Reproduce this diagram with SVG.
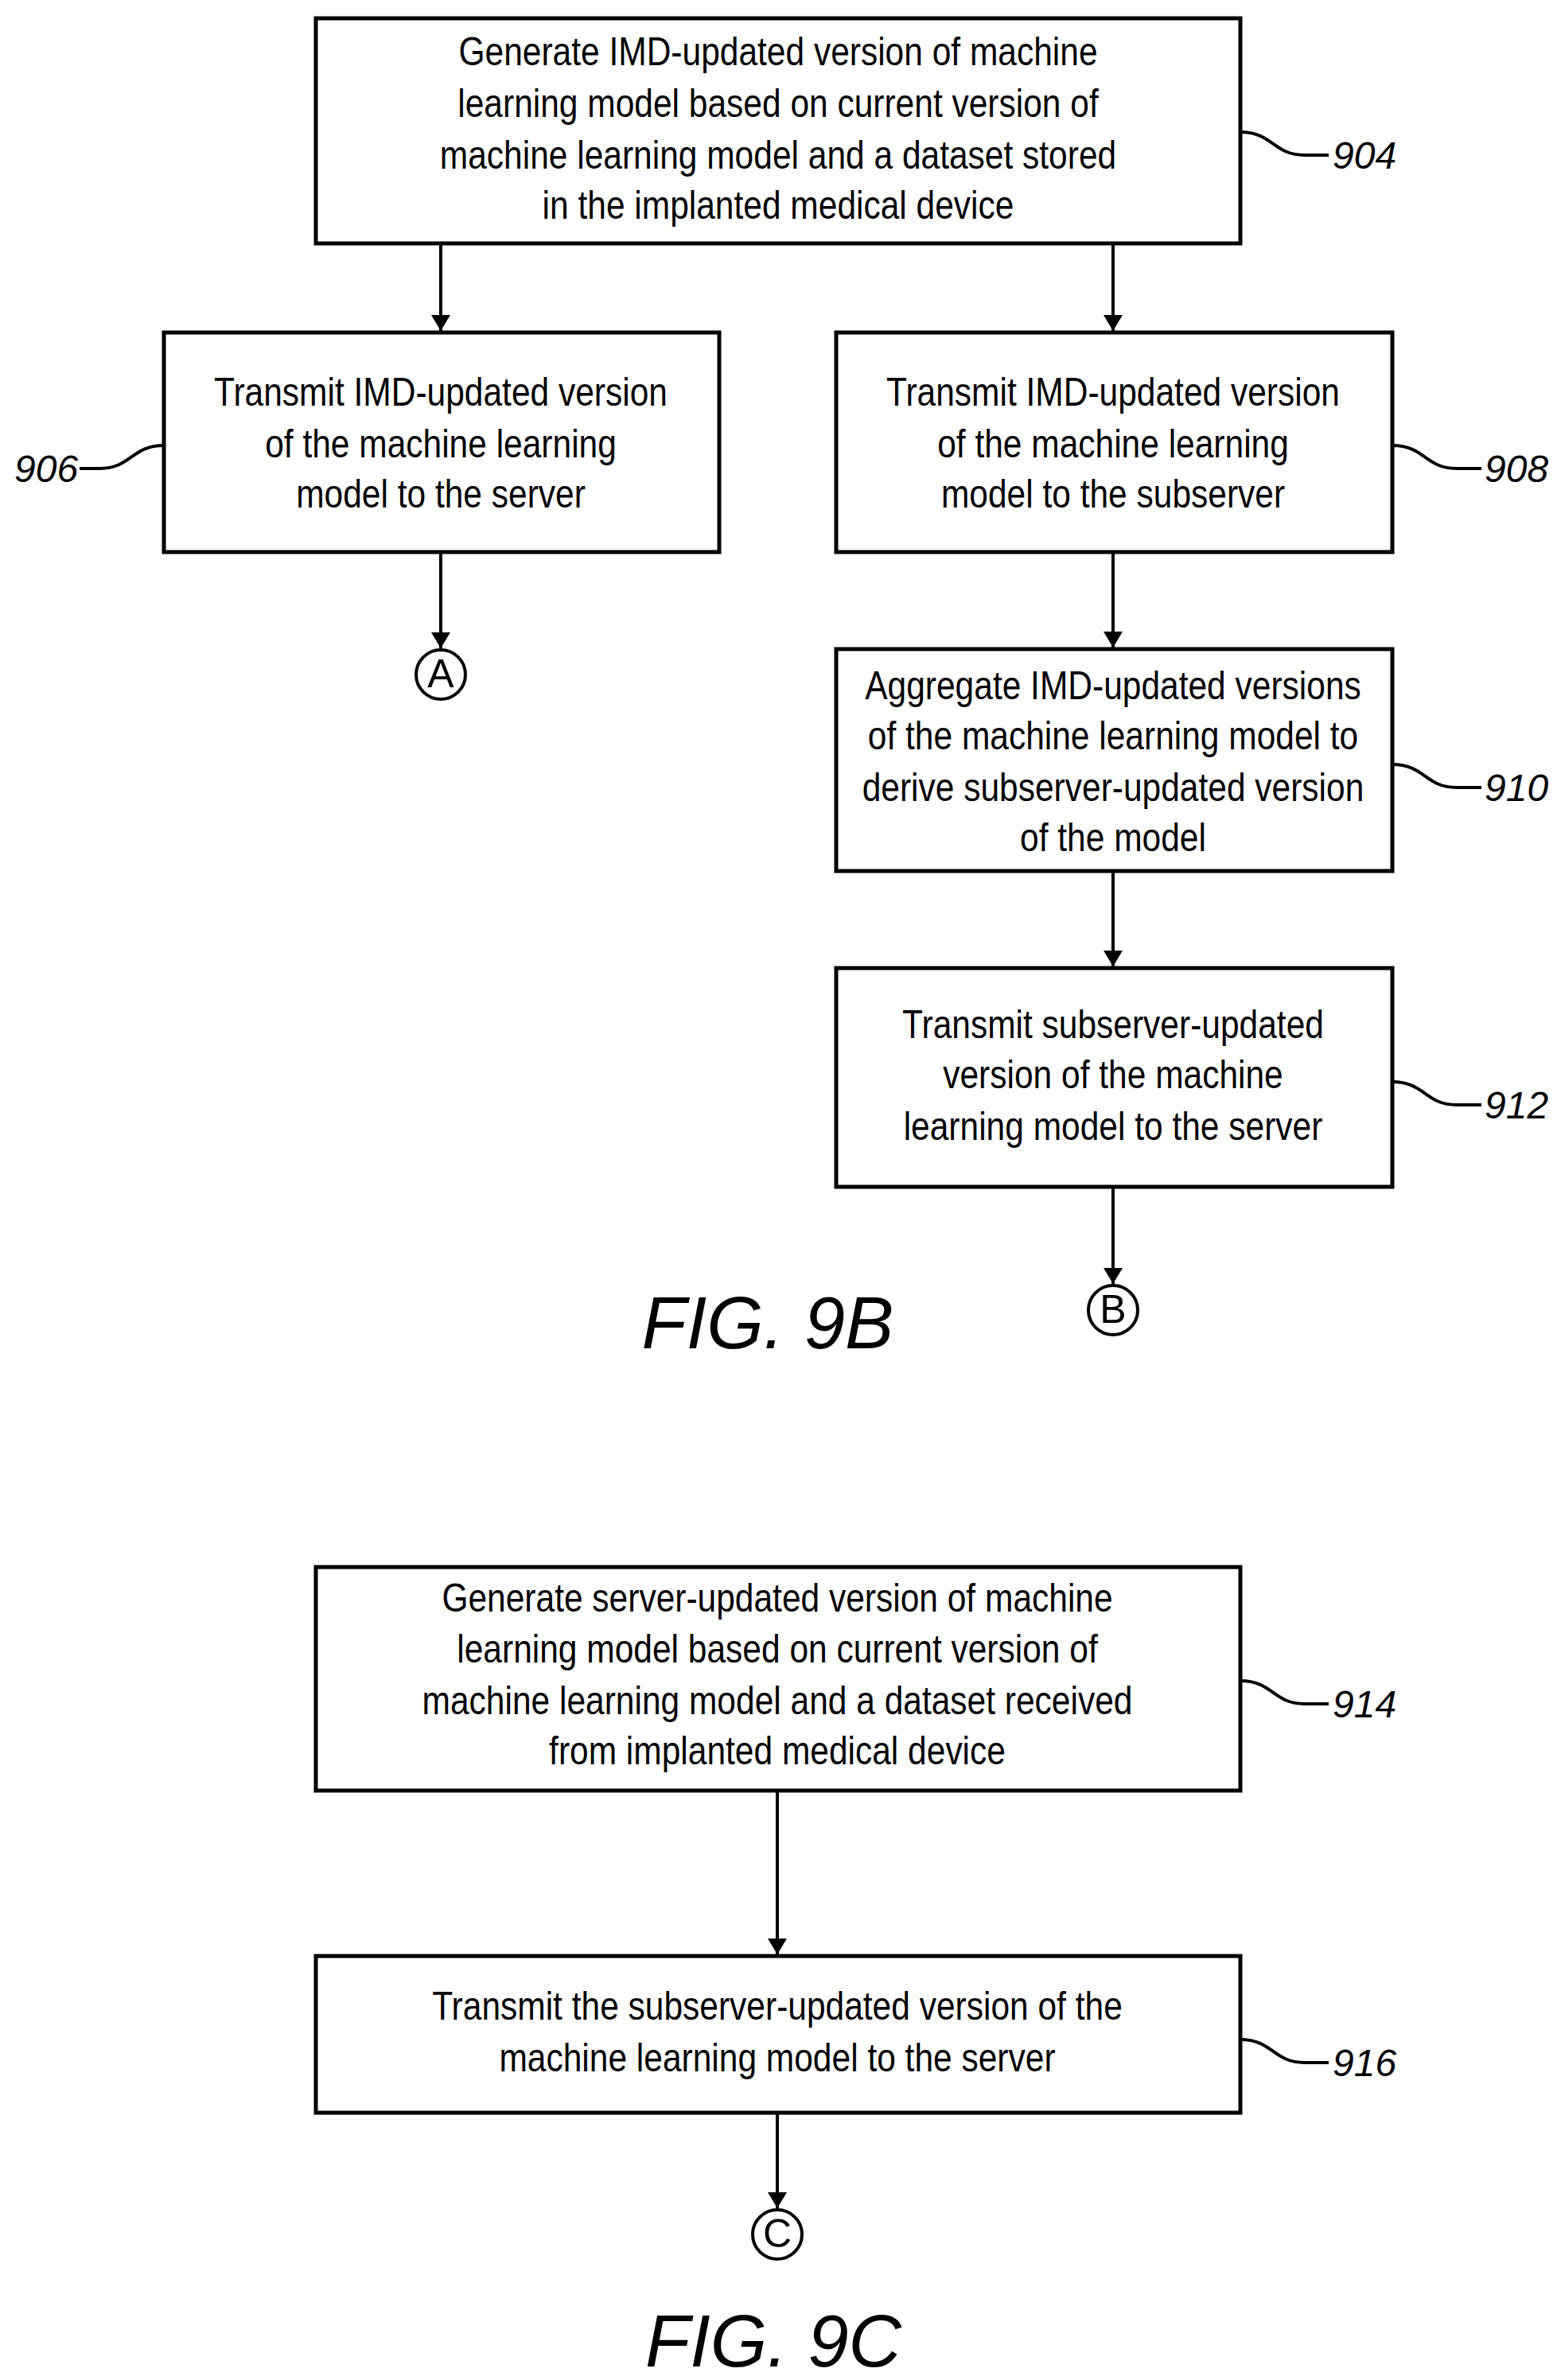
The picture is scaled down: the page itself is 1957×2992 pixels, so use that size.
<svg xmlns="http://www.w3.org/2000/svg" width="1957" height="2992" viewBox="0 0 1957 2992">
<style>
.b{fill:#fff;stroke:#000;stroke-width:5}
.c{fill:none;stroke:#000;stroke-width:4}
.t{font-family:"Liberation Sans",Arial,sans-serif;font-size:50px;text-anchor:middle;fill:#000}
.l{font-family:"Liberation Sans",Arial,sans-serif;font-size:48px;font-style:italic;fill:#000}
.f{font-family:"Liberation Sans",Arial,sans-serif;font-size:92px;font-style:italic;fill:#000;text-anchor:middle}
</style>
<defs><marker id="a" markerWidth="8" markerHeight="10" refX="8" refY="5" orient="auto" markerUnits="userSpaceOnUse" viewBox="0 0 8 10"><path d="M0,0 L8,5 L0,10 z" fill="#000"/></marker>
<marker id="ah" viewBox="0 0 20 24" refX="20" refY="12" markerWidth="20" markerHeight="24" orient="auto" markerUnits="userSpaceOnUse"><path d="M0,0 L20,12 L0,24 z" fill="#000"/></marker></defs>
<g id="connectors" class="c">
<path d="M554,306 V416" marker-end="url(#ah)"/>
<path d="M1399,306 V416" marker-end="url(#ah)"/>
<path d="M554,694 V815" marker-end="url(#ah)"/>
<path d="M1399,694 V814" marker-end="url(#ah)"/>
<path d="M1399,1095 V1215" marker-end="url(#ah)"/>
<path d="M1399,1492 V1614" marker-end="url(#ah)"/>
<path d="M977,2251 V2457" marker-end="url(#ah)"/>
<path d="M977,2656 V2776" marker-end="url(#ah)"/>
<path d="M1559,166 C1600,166 1600,195 1640,195 H1670"/>
<path d="M206,560 C165,560 165,589 125,589 H100"/>
<path d="M1750,560 C1791,560 1791,589 1831,589 H1862"/>
<path d="M1750,961 C1791,961 1791,990 1831,990 H1862"/>
<path d="M1750,1360 C1791,1360 1791,1389 1831,1389 H1862"/>
<path d="M1559,2113 C1600,2113 1600,2142 1640,2142 H1670"/>
<path d="M1559,2564 C1600,2564 1600,2593 1640,2593 H1670"/>
</g>
<g id="n904"><rect class="b" x="397" y="23" width="1162" height="283"/>
<g class="t" transform="translate(978,0) scale(0.85,1)"><text x="0" y="82">Generate IMD-updated version of machine</text><text x="0" y="147">learning model based on current version of</text><text x="0" y="212">machine learning model and a dataset stored</text><text x="0" y="275">in the implanted medical device</text></g>
<text class="l" x="1675" y="212">904</text></g>
<g id="n906"><rect class="b" x="206" y="418" width="698" height="276"/>
<g class="t" transform="translate(554,0) scale(0.85,1)"><text x="0" y="510">Transmit IMD-updated version</text><text x="0" y="575">of the machine learning</text><text x="0" y="638">model to the server</text></g>
<text class="l" x="18" y="606">906</text></g>
<g id="n908"><rect class="b" x="1051" y="418" width="699" height="276"/>
<g class="t" transform="translate(1399,0) scale(0.85,1)"><text x="0" y="510">Transmit IMD-updated version</text><text x="0" y="575">of the machine learning</text><text x="0" y="638">model to the subserver</text></g>
<text class="l" x="1866" y="606">908</text></g>
<g id="n910"><rect class="b" x="1051" y="816" width="699" height="279"/>
<g class="t" transform="translate(1399,0) scale(0.85,1)"><text x="0" y="879">Aggregate IMD-updated versions</text><text x="0" y="942">of the machine learning model to</text><text x="0" y="1007">derive subserver-updated version</text><text x="0" y="1070">of the model</text></g>
<text class="l" x="1866" y="1007">910</text></g>
<g id="n912"><rect class="b" x="1051" y="1217" width="699" height="275"/>
<g class="t" transform="translate(1399,0) scale(0.85,1)"><text x="0" y="1305">Transmit subserver-updated</text><text x="0" y="1368">version of the machine</text><text x="0" y="1433">learning model to the server</text></g>
<text class="l" x="1866" y="1406">912</text></g>
<g id="A"><circle class="c" cx="554" cy="848" r="31" fill="#fff"/><text class="t" x="554" y="864" font-size="42">A</text></g>
<g id="B"><circle class="c" cx="1399" cy="1647" r="31" fill="#fff"/><text class="t" x="1399" y="1663" font-size="42">B</text></g>
<text class="f" x="965" y="1695">FIG. 9B</text>
<g id="n914"><rect class="b" x="397" y="1970" width="1162" height="281"/>
<g class="t" transform="translate(977,0) scale(0.85,1)"><text x="0" y="2026">Generate server-updated version of machine</text><text x="0" y="2090">learning model based on current version of</text><text x="0" y="2155">machine learning model and a dataset received</text><text x="0" y="2218">from implanted medical device</text></g>
<text class="l" x="1675" y="2159">914</text></g>
<g id="n916"><rect class="b" x="397" y="2459" width="1162" height="197"/>
<g class="t" transform="translate(977,0) scale(0.85,1)"><text x="0" y="2539">Transmit the subserver-updated version of the</text><text x="0" y="2604">machine learning model to the server</text></g>
<text class="l" x="1675" y="2610">916</text></g>
<g id="C"><circle class="c" cx="977" cy="2809" r="31" fill="#fff"/><text class="t" x="977" y="2825" font-size="42">C</text></g>
<text class="f" x="972" y="2975">FIG. 9C</text>
</svg>
